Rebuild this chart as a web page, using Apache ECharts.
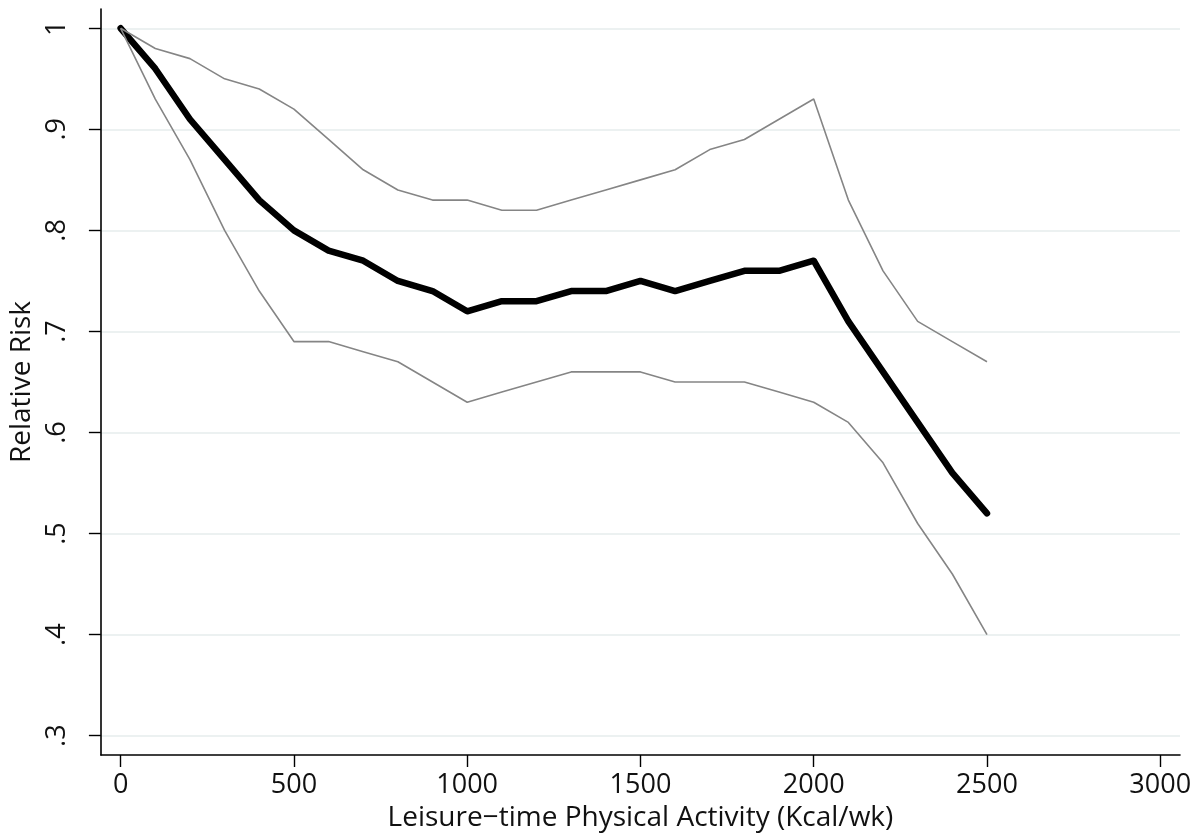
<!DOCTYPE html>
<html>
<head>
<meta charset="utf-8">
<script src="https://cdn.jsdelivr.net/npm/echarts@6/dist/echarts.min.js"></script>
<style>
html,body{margin:0;padding:0;background:#fff;overflow:hidden;}
#chart{width:1203px;height:839px;}
</style>
</head>
<body>
<div id="chart"></div>
<script>
// Data
const activity = [0,100,200,300,400,500,600,700,800,900,1000,1100,1200,1300,1400,1500,1600,1700,1800,1900,2000,2100,2200,2300,2400,2500];
const relativeRisk = [1.00,0.96,0.91,0.87,0.83,0.80,0.78,0.77,0.75,0.74,0.72,0.73,0.73,0.74,0.74,0.75,0.74,0.75,0.76,0.76,0.77,0.71,0.66,0.61,0.56,0.52];
const upperCI = [1.00,0.98,0.97,0.95,0.94,0.92,0.89,0.86,0.84,0.83,0.83,0.82,0.82,0.83,0.84,0.85,0.86,0.88,0.89,0.91,0.93,0.83,0.76,0.71,0.69,0.67];
const lowerCI = [1.00,0.93,0.87,0.80,0.74,0.69,0.69,0.68,0.67,0.65,0.63,0.64,0.65,0.66,0.66,0.66,0.65,0.65,0.65,0.64,0.63,0.61,0.57,0.51,0.46,0.40];
const xTicks = [0,500,1000,1500,2000,2500,3000];
const yTicks = [0.3,0.4,0.5,0.6,0.7,0.8,0.9,1.0];
const xTitle = 'Leisure\u2212time Physical Activity (Kcal/wk)';
const yTitle = 'Relative Risk';

function pairs(xs, ys){ return xs.map((x,i)=>[x, ys[i]]); }
function yFmt(v){
  const r = Math.round(v*10)/10;
  if (r === 1) return '1';
  return '.' + Math.round(r*10);
}

const FONT = 'Open Sans';
const chart = echarts.init(document.getElementById('chart'), null, {renderer:'canvas'});
chart.setOption({
  animation: false,
  backgroundColor: '#ffffff',
  grid: {left: 97, right: 23, top: 9, bottom: 84, containLabel: false},
  xAxis: {
    type: 'value',
    min: -57, max: 3057,
    name: xTitle,
    nameLocation: 'middle',
    nameGap: 46,
    nameTextStyle: {fontFamily: FONT, fontSize: 28, color: '#111'},
    axisLine: {show: true, onZero: false, lineStyle: {color: '#000', width: 1.6}},
    axisTick: {show: true, length: 12, lineStyle: {color: '#000', width: 1.4}, customValues: xTicks},
    axisLabel: {show: true, margin: 17, fontFamily: FONT, fontSize: 27, color: '#111', customValues: xTicks, formatter: v => String(v)},
    splitLine: {show: false}
  },
  yAxis: {
    type: 'value',
    min: 0.2809, max: 1.0191,
    name: yTitle,
    nameLocation: 'middle',
    nameGap: 64,
    nameRotate: 90,
    nameTextStyle: {fontFamily: FONT, fontSize: 28, color: '#111'},
    axisLine: {show: true, onZero: false, lineStyle: {color: '#000', width: 1.6}},
    axisTick: {show: true, length: 12, lineStyle: {color: '#000', width: 1.4}, customValues: yTicks},
    axisLabel: {show: true, rotate: 90, margin: 30, fontFamily: FONT, fontSize: 27, color: '#111', customValues: yTicks, formatter: yFmt},
    splitLine: {show: true, lineStyle: {color: '#e6eded', width: 1.5}}
  },
  series: [
    {
      name: 'RR', type: 'line', data: pairs(activity, relativeRisk),
      showSymbol: false, symbol: 'none', z: 3,
      lineStyle: {color: '#000', width: 6.5, cap: 'round', join: 'round'}
    },
    {
      name: 'Upper', type: 'line', data: pairs(activity, upperCI),
      showSymbol: false, symbol: 'none', z: 4,
      lineStyle: {color: '#858585', width: 1.6}
    },
    {
      name: 'Lower', type: 'line', data: pairs(activity, lowerCI),
      showSymbol: false, symbol: 'none', z: 4,
      lineStyle: {color: '#858585', width: 1.6}
    }
  ]
});
</script>
</body>
</html>
